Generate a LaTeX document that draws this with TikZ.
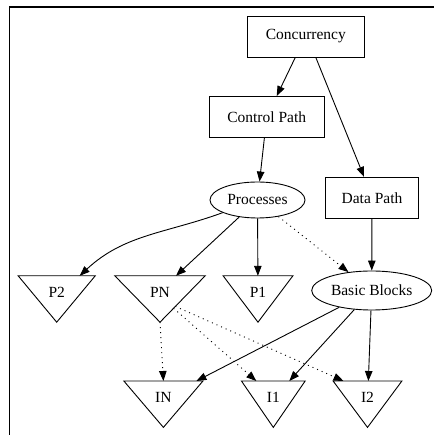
\documentclass[tikz,border=0pt]{standalone}
\usepackage{fontspec}
\setmainfont{Liberation Serif}
\usepackage{tikz}
\usetikzlibrary{shapes.geometric, arrows.meta, calc}

\tikzset{
	box/.style = {draw, rectangle, line width=0.9pt, minimum height=41pt, inner sep=0pt},
	oval/.style = {draw, ellipse, line width=0.9pt, inner sep=0pt},
	tri/.style = {minimum width=#1, minimum height=46pt, inner sep=0pt, text height=10pt, text depth=13pt,
		append after command={\pgfextra{\draw[line width=0.9pt, line join=miter] (\tikzlastnode.north west) -- (\tikzlastnode.north east) -- (\tikzlastnode.south) -- cycle;}}},
	link/.style = {line width=0.9pt, -{Triangle[length=10pt, width=7.5pt]}},
	weak/.style = {link, dash pattern=on 1pt off 4pt}
}

\begin{document}
\begin{tikzpicture}[x=1pt, y=1pt, font=\fontsize{15.5pt}{18pt}\selectfont]
		\useasboundingbox (0, 0) rectangle (434, 435);
		\draw[line width=1.3pt] (9.7, 0) -- (9.7, 428) -- (434, 428);

		\node[box, minimum width=117pt] (conc) at (305.8, 398.5) {Concurrency};
		\node[box, minimum width=115pt] (ctrl) at (266.7, 318) {Control Path};
		\node[oval, minimum width=95pt, minimum height=36pt] (proc) at (257.5, 235) {Processes};
		\node[box, minimum width=93pt] (data) at (372, 237.2) {Data Path};
		\node[oval, minimum width=120pt, minimum height=39pt] (bb) at (371.7, 144.5) {Basic Blocks};

		\node[tri=76.7pt] (p2) at (56.7, 136) {P2};
		\node[tri=90pt] (pn) at (160, 136) {PN};
		\node[tri=69.4pt] (p1) at (258, 136) {P1};
		\node[tri=78.7pt] (in) at (163.4, 30.8) {IN};
		\node[tri=63.3pt] (i1) at (273.3, 30.8) {I1};
		\node[tri=68.4pt] (i2) at (367.5, 30.8) {I2};

		\draw[link] ([xshift=-10.5pt]conc.south) -- ([xshift=10pt]ctrl.north);
		\draw[link] ([xshift=10pt]conc.south) -- ([xshift=-8pt]data.north);
		\draw[link] (ctrl) -- (proc);
		\draw[link] (data) -- (bb);

		\draw[link] (proc.200) to[out=200, in=43] ([xshift=23pt]p2.north);
		\draw[link] (proc) -- ([xshift=16pt]pn.north);
		\draw[link] (proc) -- (p1);
		\draw[weak] (proc) -- (bb);

		\draw[weak] (pn.south) -- (in.north);
		\draw[weak] ($(pn.north east)!0.7!(pn.south)$) -- ([xshift=-17pt]i1.north);
		\draw[weak] ($(pn.north east)!0.66!(pn.south)$) -- ([xshift=-24pt]i2.north);

		\draw[link] (bb) -- ([xshift=33pt]in.north);
		\draw[link] (bb) -- ([xshift=16pt]i1.north);
		\draw[link] (bb) -- (i2);
		\end{tikzpicture}
\end{document}
